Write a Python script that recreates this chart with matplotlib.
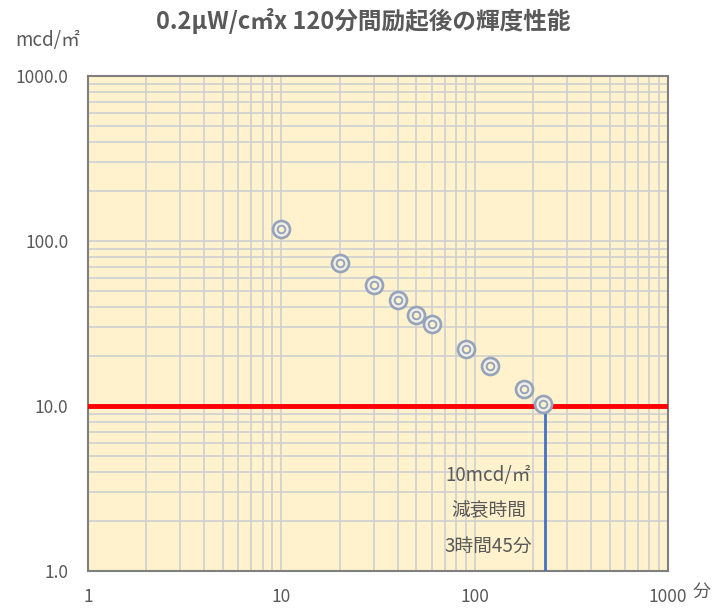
import matplotlib
matplotlib.use("Agg")
import matplotlib.pyplot as plt
from matplotlib.ticker import FixedLocator, LogLocator, NullFormatter

plt.rcParams['font.family'] = ['Noto Sans CJK JP', 'DejaVu Sans']

# elapsed time (min) and luminance (mcd/m2)
minutes = [10, 20, 30, 40, 50, 60, 90, 120, 180, 225]
luminance = [118, 74, 54.5, 43.7, 35.4, 31.4, 22.1, 17.5, 12.7, 10.3]
threshold = 10
decay_time = 230

x_ticks = [1, 10, 100, 1000]
x_labels = ['1', '10', '100', '1000']
y_ticks = [1, 10, 100, 1000]
y_labels = ['1.0', '10.0', '100.0', '1000.0']

txt = '#595959'

fig = plt.figure(figsize=(7.17, 6.08), dpi=100)
ax = fig.add_axes([0.1227, 0.0609, 0.809, 0.814])
ax.set_facecolor('#fff2cc')
ax.set_xscale('log')
ax.set_yscale('log')
ax.set_xlim(1, 1000)
ax.set_ylim(1, 1000)

# grid lines on every minor step
ax.xaxis.set_minor_locator(LogLocator(base=10, subs=range(2, 10)))
ax.yaxis.set_minor_locator(LogLocator(base=10, subs=range(2, 10)))
ax.xaxis.set_minor_formatter(NullFormatter())
ax.yaxis.set_minor_formatter(NullFormatter())
ax.grid(True, which='both', color='#d0d0d0', linewidth=1.2)
ax.set_axisbelow(True)

ax.xaxis.set_major_locator(FixedLocator(x_ticks))
ax.yaxis.set_major_locator(FixedLocator(y_ticks))
ax.set_xticklabels(x_labels)
ax.set_yticklabels(y_labels)
ax.tick_params(which='both', length=0, colors=txt, labelsize=12.5, pad=12)
ax.tick_params(axis='y', pad=14)

for s in ax.spines.values():
    s.set_color('#7f7f7f')
    s.set_linewidth(1.5)

# 10 mcd line and decay time
ax.axhline(threshold, color='#ff0000', linewidth=3.5, zorder=3)
ax.plot([decay_time, decay_time], [1, threshold], color='#4472c4', linewidth=2, zorder=3)

# double-circle markers
ax.scatter(minutes, luminance, s=150, facecolor='#f2efe6', edgecolor='#95a3bb',
           linewidth=1.9, zorder=4)
ax.scatter(minutes, luminance, s=30, facecolor='#fff2cc', edgecolor='#95a3bb',
           linewidth=1.4, zorder=5)

ax.text(118, 3.77, '10mcd/㎡', ha='center', va='center', color=txt, fontsize=13.5)
ax.text(118, 2.31, '減衰時間', ha='center', va='center', color=txt, fontsize=13.5)
ax.text(118, 1.42, '3時間45分', ha='center', va='center', color=txt, fontsize=13.5)

fig.text(0.507, 0.966, '0.2μW/c㎡x 120分間励起後の輝度性能', ha='center', va='center',
         color=txt, fontsize=17, fontweight='bold')
fig.text(0.066, 0.933, 'mcd/㎡', ha='center', va='center', color=txt, fontsize=13.5)
fig.text(0.979, 0.026, '分', ha='center', va='center', color=txt, fontsize=13)

fig.savefig('out.png', dpi=100)
